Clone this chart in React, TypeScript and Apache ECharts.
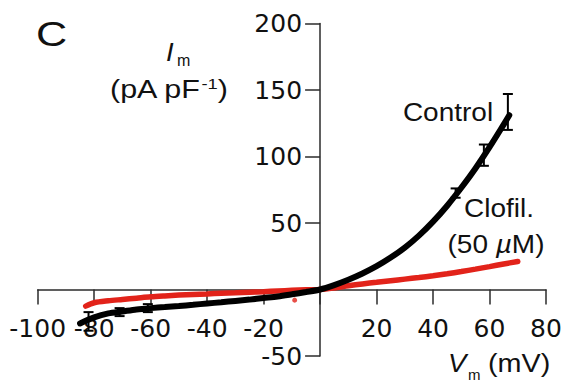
import React, { useEffect, useRef } from 'react';
import * as echarts from 'echarts';

// ---- data ----
const xTicks = [-100, -80, -60, -40, -20, 0, 20, 40, 60, 80];
const yTicks = [-50, 0, 50, 100, 150, 200];

const controlV = [-85, -80, -75, -70, -65, -60, -55, -50, -45, -40, -35, -30, -25, -20, -15, -10, -5, 0, 5, 10, 15, 20, 25, 30, 35, 40, 45, 50, 55, 60, 65, 67];
const controlI = [-25.5, -21, -18, -16.5, -15, -14, -13.2, -12.4, -11.5, -10.5, -9.6, -8.6, -7.6, -6.4, -5.2, -3.6, -1.9, 0, 3.3, 7.3, 12, 17.5, 24, 31.5, 40.5, 51, 63, 76.5, 91, 107, 124, 131];

const clofilV = [-83, -80, -75, -70, -65, -60, -55, -50, -45, -40, -35, -30, -25, -20, -15, -10, -5, 0, 5, 10, 15, 20, 25, 30, 35, 40, 45, 50, 55, 60, 65, 70];
const clofilI = [-12.5, -10, -8.5, -7.5, -6.5, -5.5, -4.8, -4.2, -3.7, -3.3, -2.8, -2.4, -2, -1.6, -1.1, -0.6, -0.2, 0, 1.2, 2.8, 4.2, 5.4, 6.6, 7.8, 9.0, 10.3, 11.8, 13.5, 15.3, 17.2, 19.2, 21];
const clofilArtifactV = [-9];
const clofilArtifactI = [-8];

const errV = [-82, -71, -61, 48, 58, 66.5];
const errLow = [-31, -20, -17, 69, 93, 120];
const errHigh = [-17, -14, -11, 76, 109, 147];

const FONT = '"Liberation Sans", Arial, Helvetica, sans-serif';
const AXFONT = '"DejaVu Sans", "Liberation Sans", Arial, sans-serif';
const RED = '#e2231a';
const AXIS = '#2b2b2b';

const GRID_LEFT = 37.7;
const GRID_TOP = 23.5;
const GRID_W = 508.3;
const GRID_H = 332.5;

export default function App() {
  const ref = useRef<HTMLDivElement>(null);
  useEffect(() => {
    if (!ref.current) return;
    const chart = echarts.init(ref.current, undefined, { renderer: 'svg' });
    const controlData = controlV.map((v, i) => [v, controlI[i]]);
    const clofilData = clofilV.map((v, i) => [v, clofilI[i]]);
    const artifactData = clofilArtifactV.map((v, i) => [v, clofilArtifactI[i]]);
    const errData = errV.map((v, i) => [v, errLow[i], errHigh[i]]);

    const xMin = xTicks[0];
    const xMax = xTicks[xTicks.length - 1];
    const yMin = yTicks[0];
    const yMax = yTicks[yTicks.length - 1];
    // move the axes to cross at the origin (labels follow)
    const yAxisOffset = -((0 - xMin) / (xMax - xMin)) * GRID_W;
    const xAxisOffset = -((0 - yMin) / (yMax - yMin)) * GRID_H;

    const option: any = {
      animation: false,
      backgroundColor: '#ffffff',
      grid: { left: GRID_LEFT, top: GRID_TOP, width: GRID_W, height: GRID_H, containLabel: false, outerBoundsMode: 'none' },
      xAxis: {
        type: 'value',
        position: 'bottom',
        offset: xAxisOffset,
        min: xMin,
        max: xMax,
        interval: 20,
        axisLine: { show: true, onZero: false, lineStyle: { color: AXIS, width: 1.5 } },
        axisTick: { show: true, inside: false, length: 15, lineStyle: { color: AXIS, width: 1.5 } },
        axisLabel: {
          margin: 26,
          fontSize: 25,
          fontFamily: AXFONT,
          color: '#111',
          formatter: (v: number) => (v === 0 ? '' : String(v)),
        },
        splitLine: { show: false },
      },
      yAxis: {
        type: 'value',
        position: 'left',
        offset: yAxisOffset,
        min: yMin,
        max: yMax,
        interval: 50,
        axisLine: { show: true, onZero: false, lineStyle: { color: AXIS, width: 1.5 } },
        axisTick: { show: true, inside: false, length: 15, lineStyle: { color: AXIS, width: 1.5 } },
        axisLabel: {
          margin: 18,
          fontSize: 25,
          fontFamily: AXFONT,
          color: '#111',
          formatter: (v: number) => (v === 0 ? '' : String(v)),
        },
        splitLine: { show: false },
      },
      series: [
        {
          name: 'Clofil. (50 µM)',
          type: 'line',
          data: clofilData,
          showSymbol: false,
          smooth: 0.3,
          lineStyle: { color: RED, width: 5.5, cap: 'round' },
          z: 3,
        },
        {
          name: 'artifact',
          type: 'scatter',
          data: artifactData,
          symbolSize: 5,
          itemStyle: { color: RED },
          z: 3,
        },
        {
          name: 'Control',
          type: 'line',
          data: controlData,
          showSymbol: false,
          smooth: 0.3,
          lineStyle: { color: '#000', width: 6, cap: 'round' },
          z: 4,
        },
        {
          name: 'Control SEM',
          type: 'custom',
          data: errData,
          z: 5,
          renderItem: (params: any, api: any) => {
            const x = api.value(0);
            const lo = api.coord([x, api.value(1)]);
            const hi = api.coord([x, api.value(2)]);
            const hw = 5;
            const st = { stroke: '#000', lineWidth: 2 };
            return {
              type: 'group',
              children: [
                { type: 'line', shape: { x1: lo[0], y1: lo[1], x2: hi[0], y2: hi[1] }, style: st },
                { type: 'line', shape: { x1: hi[0] - hw, y1: hi[1], x2: hi[0] + hw, y2: hi[1] }, style: st },
                { type: 'line', shape: { x1: lo[0] - hw, y1: lo[1], x2: lo[0] + hw, y2: lo[1] }, style: st },
              ],
            };
          },
        },
      ],
      graphic: [
        { type: 'text', x: 36, y: 33, scaleX: 1.2, style: { text: 'C', fontSize: 36, fontFamily: FONT, fill: '#111', textAlign: 'left', textVerticalAlign: 'middle' } },
        { type: 'text', x: 166, y: 52, scaleX: 1.1, style: { text: 'I', fontSize: 25, fontStyle: 'italic', fontFamily: FONT, fill: '#111', textAlign: 'left', textVerticalAlign: 'middle' } },
        { type: 'text', x: 177, y: 60, style: { text: 'm', fontSize: 16, fontFamily: FONT, fill: '#111', textAlign: 'left', textVerticalAlign: 'middle' } },
        {
          type: 'text', x: 110, y: 89, scaleX: 1.22,
          style: {
            text: '{a|(pA pF}{s|-1}{a|)}',
            fontFamily: FONT, fill: '#111', textAlign: 'left', textVerticalAlign: 'middle',
            rich: {
              a: { fontSize: 25, fontFamily: FONT, fill: '#111' },
              s: { fontSize: 15, fontFamily: FONT, fill: '#111', verticalAlign: 'top' },
            },
          },
        },
        { type: 'text', x: 448, y: 113, scaleX: 1.12, style: { text: 'Control', fontSize: 25, fontFamily: FONT, fill: '#111', textAlign: 'center', textVerticalAlign: 'middle' } },
        { type: 'text', x: 499, y: 209, scaleX: 1.12, style: { text: 'Clofil.', fontSize: 25, fontFamily: FONT, fill: '#111', textAlign: 'center', textVerticalAlign: 'middle' } },
        {
          type: 'text', x: 496, y: 245, scaleX: 1.12,
          style: {
            text: '{a|(50 }{i|µ}{a|M)}',
            fontFamily: FONT, fill: '#111', textAlign: 'center', textVerticalAlign: 'middle',
            rich: {
              a: { fontSize: 25, fontFamily: FONT, fill: '#111' },
              i: { fontSize: 25, fontFamily: FONT, fontStyle: 'italic', fill: '#111' },
            },
          },
        },
        { type: 'text', x: 448, y: 363, scaleX: 1.1, style: { text: 'V', fontSize: 25, fontStyle: 'italic', fontFamily: FONT, fill: '#111', textAlign: 'left', textVerticalAlign: 'middle' } },
        { type: 'text', x: 468, y: 374, style: { text: 'm', fontSize: 15, fontFamily: FONT, fill: '#111', textAlign: 'left', textVerticalAlign: 'middle' } },
        { type: 'text', x: 488, y: 364, scaleX: 1.15, style: { text: '(mV)', fontSize: 25, fontFamily: FONT, fill: '#111', textAlign: 'left', textVerticalAlign: 'middle' } },
      ],
    };
    chart.setOption(option);
    return () => chart.dispose();
  }, []);
  return <div ref={ref} style={{ position: 'fixed', left: 0, top: 0, width: 565, height: 383, background: '#fff' }} />;
}
